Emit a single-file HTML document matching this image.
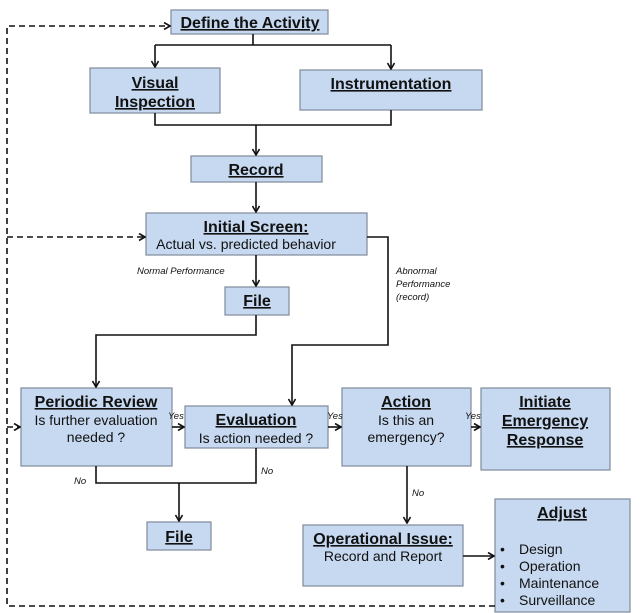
<!DOCTYPE html>
<html><head><meta charset="utf-8"><style>
html,body{margin:0;padding:0;background:#fff;}
svg{display:block;}
text{font-family:"Liberation Sans",Arial,sans-serif;fill:#111;}
.t{font-weight:bold;font-size:16px;text-decoration:underline;}
.n{font-size:14px;}
.i{font-style:italic;font-size:9.5px;}
</style></head><body>
<svg width="641" height="613" viewBox="0 0 641 613">
<defs><marker id="a" markerWidth="8" markerHeight="8" refX="7" refY="4" orient="auto" markerUnits="userSpaceOnUse"><path d="M1,0.5 L7,4 L1,7.5" fill="none" stroke="#111" stroke-width="1.6"/></marker></defs>
<g fill="#c6d9f0" stroke="#7f8a99" stroke-width="1.2">
<rect x="171" y="10" width="157" height="24"/>
<rect x="90" y="68" width="130" height="45"/>
<rect x="300" y="70" width="182" height="40"/>
<rect x="191" y="156" width="131" height="26"/>
<rect x="146" y="213" width="221" height="42"/>
<rect x="225" y="287" width="64" height="28"/>
<rect x="21" y="388" width="151" height="78"/>
<rect x="185" y="406" width="143" height="42"/>
<rect x="342" y="388" width="129" height="78"/>
<rect x="481" y="388" width="129" height="82"/>
<rect x="147" y="522" width="64" height="28"/>
<rect x="303" y="525" width="160" height="61"/>
<rect x="495" y="499" width="135" height="113"/>
</g>
<g fill="none" stroke="#111" stroke-width="1.6">
<path d="M253,34 V45 M155,45 H391"/>
<path d="M155,45 V67" marker-end="url(#a)"/>
<path d="M391,45 V69" marker-end="url(#a)"/>
<path d="M155,113 V125 H391 V110"/>
<path d="M256,125 V155" marker-end="url(#a)"/>
<path d="M256,182 V212" marker-end="url(#a)"/>
<path d="M256,255 V286" marker-end="url(#a)"/>
<path d="M367,237 H388 V345 H292 V405" marker-end="url(#a)"/>
<path d="M256,315 V335 H96 V387" marker-end="url(#a)"/>
<path d="M172,427 H184" marker-end="url(#a)"/>
<path d="M328,427 H341" marker-end="url(#a)"/>
<path d="M471,427 H480" marker-end="url(#a)"/>
<path d="M96,466 V483 H256 V448"/>
<path d="M179,483 V521" marker-end="url(#a)"/>
<path d="M407,466 V523" marker-end="url(#a)"/>
<path d="M463,556 H494" marker-end="url(#a)"/>
</g>
<g fill="none" stroke="#111" stroke-width="1.6" stroke-dasharray="6,4">
<path d="M495,606 H7 V26 H170" marker-end="url(#a)"/>
<path d="M7,237 H145" marker-end="url(#a)"/>
<path d="M7,427 H20" marker-end="url(#a)"/>
</g>
<g text-anchor="middle">
<text class="t" x="250" y="28">Define the Activity</text>
<text class="t" x="155" y="88">Visual</text>
<text class="t" x="155" y="107">Inspection</text>
<text class="t" x="391" y="89">Instrumentation</text>
<text class="t" x="256" y="175">Record</text>
<text class="t" x="256" y="232">Initial Screen:</text>
<text class="n" x="246" y="249">Actual vs. predicted behavior</text>
<text class="t" x="257" y="306">File</text>
<text class="t" x="96" y="407">Periodic Review</text>
<text class="n" x="96" y="425">Is further evaluation</text>
<text class="n" x="96" y="442">needed ?</text>
<text class="t" x="256" y="425">Evaluation</text>
<text class="n" x="256" y="443">Is action needed ?</text>
<text class="t" x="406" y="407">Action</text>
<text class="n" x="406" y="425">Is this an</text>
<text class="n" x="406" y="442">emergency?</text>
<text class="t" x="545" y="407">Initiate</text>
<text class="t" x="545" y="426">Emergency</text>
<text class="t" x="545" y="445">Response</text>
<text class="t" x="179" y="542">File</text>
<text class="t" x="383" y="544">Operational Issue:</text>
<text class="n" x="383" y="561">Record and Report</text>
<text class="t" x="562" y="518">Adjust</text>
</g>
<g>
<text x="500" y="554" class="n">•</text><text x="519" y="554" class="n">Design</text>
<text x="500" y="571" class="n">•</text><text x="519" y="571" class="n">Operation</text>
<text x="500" y="588" class="n">•</text><text x="519" y="588" class="n">Maintenance</text>
<text x="500" y="605" class="n">•</text><text x="519" y="605" class="n">Surveillance</text>
</g>
<g>
<text x="137" y="274" class="i">Normal Performance</text>
<text x="396" y="274" class="i">Abnormal</text>
<text x="396" y="287" class="i">Performance</text>
<text x="396" y="300" class="i">(record)</text>
<text x="168" y="419" class="i">Yes</text>
<text x="327" y="419" class="i">Yes</text>
<text x="465" y="419" class="i">Yes</text>
<text x="74" y="484" class="i">No</text>
<text x="261" y="474" class="i">No</text>
<text x="412" y="496" class="i">No</text>
</g>
</svg>
</body></html>
